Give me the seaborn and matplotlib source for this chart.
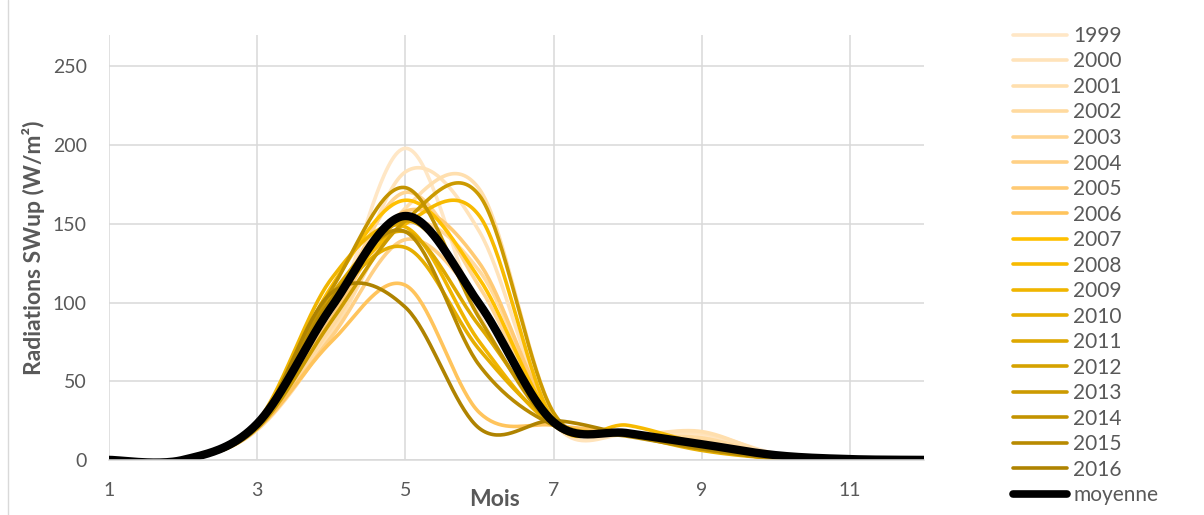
import numpy as np
import pandas as pd
import matplotlib.pyplot as plt
import seaborn as sns
from matplotlib.lines import Line2D

sns.set_theme(style="white")
plt.rcParams['font.family'] = ['Lato', 'DejaVu Sans']

months = [1, 2, 3, 4, 5, 6, 7, 8, 9, 10, 11, 12]
years = ['1999', '2000', '2001', '2002', '2003', '2004', '2005', '2006', '2007',
         '2008', '2009', '2010', '2011', '2012', '2013', '2014', '2015', '2016']

# monthly SWup values per year
swup = {
    '1999': [0, 0, 21, 88, 198, 92, 22, 17, 16, 3, 0.5, 0],
    '2000': [0, 0, 20, 82, 183, 145, 24, 16, 17, 4, 0.5, 0],
    '2001': [0, 0, 19, 80, 160, 172, 30, 17, 18, 3, 0.5, 0],
    '2002': [0, 0, 20, 84, 150, 120, 28, 16, 14, 3, 0, 0],
    '2003': [0, 0, 22, 95, 170, 110, 25, 16, 12, 2, 0, 0],
    '2004': [0, 0, 21, 78, 140, 100, 24, 17, 10, 2, 0, 0],
    '2005': [0, 0, 22, 90, 158, 125, 27, 18, 11, 2, 0, 0],
    '2006': [0, 0, 20, 75, 111, 30, 22, 17, 9, 2, 0, 0],
    '2007': [0, 0, 23, 110, 165, 115, 26, 18, 9, 2, 0, 0],
    '2008': [0, 0, 22, 100, 150, 155, 25, 22, 10, 2, 0, 0],
    '2009': [0, 0, 24, 115, 148, 75, 22, 17, 7, 1, 0, 0],
    '2010': [0, 0, 22, 100, 135, 70, 24, 16, 6, 1, 0, 0],
    '2011': [0, 0, 23, 105, 145, 85, 25, 16, 7, 1, 0, 0],
    '2012': [0, 0, 21, 95, 152, 100, 26, 17, 8, 2, 0, 0],
    '2013': [0, 0, 20, 88, 152, 168, 30, 17, 7, 2, 0, 0],
    '2014': [0, 0, 22, 108, 173, 90, 22, 16, 8, 2, 0, 0],
    '2015': [0, 0, 23, 102, 145, 60, 22, 15, 7, 1, 0, 0],
    '2016': [0, 0, 22, 106, 97, 20, 25, 16, 8, 2, 0, 0],
}
moyenne = [0, 0, 23, 97, 155, 99, 24, 17, 10, 3, 0.5, 0]

colors = ['#FFE7C6', '#FFE3BA', '#FFDFAE', '#FFDA9F', '#FFD593', '#FFD085',
          '#FFCA74', '#FFC45C', '#FFC000', '#F7BA00', '#F0B500', '#E6AE00',
          '#DEA800', '#D5A200', '#CC9A00', '#C39300', '#B88A00', '#AF8300']


def excel_smooth(x, y, n=40):
    # bezier smoothing like Excel "smoothed line" (Catmull-Rom style)
    x = np.asarray(x, float)
    y = np.asarray(y, float)
    xs, ys = [], []
    for i in range(len(x) - 1):
        i0 = max(i - 1, 0)
        i3 = min(i + 2, len(x) - 1)
        p0 = np.array([x[i], y[i]])
        p3 = np.array([x[i + 1], y[i + 1]])
        p1 = p0 + (p3 - np.array([x[i0], y[i0]])) / 6
        p2 = p3 - (np.array([x[i3], y[i3]]) - p0) / 6
        t = np.linspace(0, 1, n)[:, None]
        pts = ((1 - t) ** 3 * p0 + 3 * (1 - t) ** 2 * t * p1
               + 3 * (1 - t) * t ** 2 * p2 + t ** 3 * p3)
        xs.extend(pts[:, 0])
        ys.extend(pts[:, 1])
    return np.array(xs), np.array(ys)


rows = []
for yr in years:
    sx, sy = excel_smooth(months, swup[yr])
    rows.append(pd.DataFrame({'mois': sx, 'swup': sy, 'annee': yr}))
df = pd.concat(rows, ignore_index=True)
mx, my = excel_smooth(months, moyenne)
df_moy = pd.DataFrame({'mois': mx, 'swup': my})

fig = plt.figure(figsize=(12.04, 5.15), dpi=100)
ax = fig.add_axes([0.0905, 0.107, 0.677, 0.825])

sns.lineplot(data=df, x='mois', y='swup', hue='annee', palette=dict(zip(years, colors)),
             sort=False, estimator=None, linewidth=2.6, ax=ax, legend=False,
             solid_capstyle='round')
sns.lineplot(data=df_moy, x='mois', y='swup', color='black', sort=False,
             estimator=None, linewidth=6, ax=ax, solid_capstyle='round')

ax.set_xlim(1, 12)
ax.set_ylim(0, 270)
ax.set_xticks([1, 3, 5, 7, 9, 11])
ax.set_yticks([0, 50, 100, 150, 200, 250])
ax.grid(True, color='#D9D9D9', linewidth=1.1)
ax.set_axisbelow(True)
for s in ['top', 'right', 'left']:
    ax.spines[s].set_visible(False)
ax.spines['bottom'].set_color('#D9D9D9')
ax.spines['bottom'].set_linewidth(1.1)
ax.tick_params(axis='both', length=0, labelsize=14, colors='#595959')
ax.tick_params(axis='y', pad=16)
ax.tick_params(axis='x', pad=16)

ax.set_xlabel('Mois', fontsize=16.5, fontweight='bold', color='#595959')
ax.set_ylabel('Radiations SWup (W/m²)', fontsize=16.5, fontweight='bold', color='#595959')
ax.xaxis.set_label_coords(0.473, -0.068)
ax.yaxis.set_label_coords(-0.078, 0.5)

handles = [Line2D([0], [0], color=c, lw=2.6, solid_capstyle='round') for c in colors]
handles.append(Line2D([0], [0], color='black', lw=5.5, solid_capstyle='round'))
leg = fig.legend(handles, years + ['moyenne'], loc='upper left',
                 bbox_to_anchor=(0.829, 0.978), frameon=False, fontsize=15,
                 handlelength=2.6, handletextpad=0.3, labelspacing=0.265,
                 borderaxespad=0.3)
for t in leg.get_texts():
    t.set_color('#595959')

fig.add_artist(Line2D([8 / 1204, 8 / 1204], [0, 1], color='#D9D9D9', lw=1))

fig.savefig('out.png', dpi=100)
